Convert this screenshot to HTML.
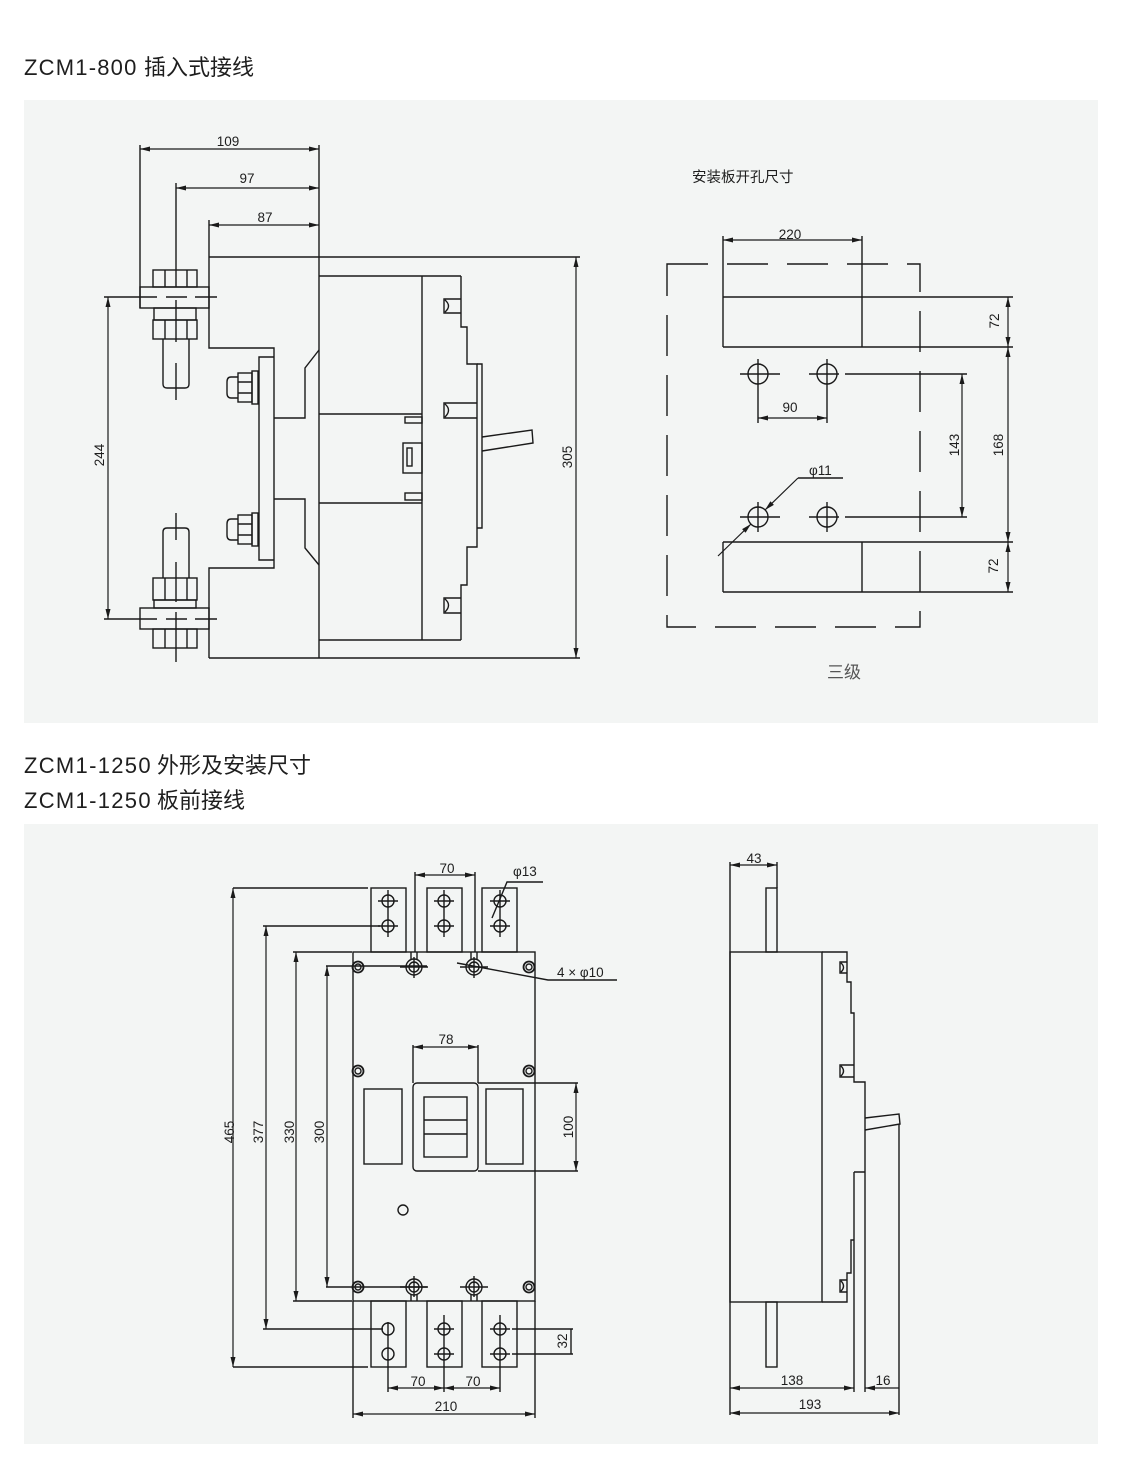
<!DOCTYPE html>
<html>
<head>
<meta charset="utf-8">
<style>
html,body{margin:0;padding:0;background:#fff;}
svg{display:block;}
.t{font-family:"Liberation Sans","Noto Sans CJK SC",sans-serif;fill:#1e1e1e;}
.n{font-family:"Liberation Sans",sans-serif;font-size:13.5px;fill:#1e1e1e;}
.l{stroke:#1a1a1a;stroke-width:1.4;fill:none;}
.d{stroke:#1a1a1a;stroke-width:1.2;fill:none;marker-start:url(#a);marker-end:url(#a);}
</style>
</head>
<body>
<svg width="1121" height="1471" viewBox="0 0 1121 1471" xmlns="http://www.w3.org/2000/svg">
<defs>
<marker id="a" viewBox="0 0 12 6" refX="12" refY="3" markerWidth="12" markerHeight="5" orient="auto-start-reverse" markerUnits="userSpaceOnUse"><path d="M0,0L12,3L0,6z" fill="#1a1a1a"/></marker>
<marker id="e" viewBox="0 0 12 6" refX="12" refY="3" markerWidth="12" markerHeight="5" orient="auto" markerUnits="userSpaceOnUse"><path d="M0,0L12,3L0,6z" fill="#1a1a1a"/></marker>
</defs>

<!-- panels -->
<rect x="24" y="100" width="1074" height="623" fill="#f3f5f4"/>
<rect x="24" y="824" width="1074" height="620" fill="#f3f5f4"/>

<!-- titles -->
<text class="t" y="75" font-size="22"><tspan x="24" letter-spacing="1.2">ZCM1-800</tspan><tspan x="144">插入式接线</tspan></text>
<text class="t" y="773" font-size="22"><tspan x="24" letter-spacing="1.3">ZCM1-1250</tspan><tspan x="157">外形及安装尺寸</tspan></text>
<text class="t" y="808" font-size="22"><tspan x="24" letter-spacing="1.3">ZCM1-1250</tspan><tspan x="157">板前接线</tspan></text>

<!-- ================= TOP LEFT ================= -->
<g>
<line class="d" x1="140" y1="149" x2="319" y2="149"/>
<line class="d" x1="176" y1="188" x2="319" y2="188"/>
<line class="d" x1="209" y1="225" x2="319" y2="225"/>
<text class="n" x="228" y="146" text-anchor="middle">109</text>
<text class="n" x="247" y="183" text-anchor="middle">97</text>
<text class="n" x="265" y="222" text-anchor="middle">87</text>

<path class="l" d="M140,145V308 M319,145V658 M176,183V287 M176,300V342 M176,363V400"/>
<path class="l" d="M209,220V348H274V568H209V658"/>
<path class="l" d="M209,257H580 M209,658H580"/>
<path class="l" d="M319,276H461 M319,640H461 M422,276V640 M319,414H422 M319,503H422"/>
<path class="l" d="M461,276V327H467V364H477V547H467V585H461V640"/>
<path class="l" d="M477,364H482V528H477"/>
<path class="l" d="M482,437L532,430L533,443L482,451"/>
<path class="l" d="M461,299H444V313H461 M445,300Q452,306 445,312"/>
<path class="l" d="M477,403H444V418H477 M445,404Q452,410 445,417"/>
<path class="l" d="M461,598H444V613H461 M445,599Q452,605 445,612"/>
<rect class="l" x="405" y="417" width="17" height="6"/>
<rect class="l" x="403" y="443" width="19" height="30"/>
<rect class="l" x="407" y="448" width="5" height="18"/>
<rect class="l" x="405" y="493" width="17" height="7"/>
<path class="l" d="M319,350L305,368V418H274 M274,499H305V548L319,565"/>
<path class="l" d="M274,357H259V560H274"/>
<g>
<path class="l" d="M238,377H231Q227,377 227,382V393Q227,398 231,398H238"/>
<rect class="l" x="238" y="373" width="14" height="29"/>
<path class="l" d="M238,382H252 M238,393H252"/>
<rect class="l" x="252" y="371" width="6" height="33"/>
</g>
<g>
<path class="l" d="M238,519H231Q227,519 227,524V535Q227,540 231,540H238"/>
<rect class="l" x="238" y="515" width="14" height="29"/>
<path class="l" d="M238,524H252 M238,535H252"/>
<rect class="l" x="252" y="513" width="6" height="33"/>
</g>
<rect class="l" x="153" y="270" width="44" height="17"/>
<path class="l" d="M165,270V287 M187,270V287"/>
<rect class="l" x="140" y="287" width="69" height="21"/>
<path class="l" d="M104,297H157 M166,297H187 M195,297H217"/>
<rect class="l" x="154" y="308" width="42" height="12"/>
<rect class="l" x="153" y="320" width="44" height="19"/>
<path class="l" d="M165,320V339 M187,320V339"/>
<path class="l" d="M163,339V384Q163,388 167,388H185Q189,388 189,384V339"/>
<path class="l" d="M163,578V532Q163,528 167,528H185Q189,528 189,532V578"/>
<rect class="l" x="153" y="578" width="44" height="22"/>
<path class="l" d="M165,578V600 M187,578V600"/>
<rect class="l" x="154" y="600" width="42" height="8"/>
<rect class="l" x="140" y="608" width="69" height="21"/>
<path class="l" d="M104,619H157 M166,619H187 M195,619H217"/>
<rect class="l" x="153" y="629" width="44" height="19"/>
<path class="l" d="M165,629V648 M187,629V648"/>
<path class="l" d="M176,513V540 M176,562V602 M176,612V662"/>
<line class="d" x1="108" y1="297" x2="108" y2="619"/>
<text class="n" transform="translate(104,455) rotate(-90)" text-anchor="middle">244</text>
<line class="d" x1="576" y1="257" x2="576" y2="658"/>
<text class="n" transform="translate(572,457) rotate(-90)" text-anchor="middle">305</text>
</g>

<!-- ================= TOP RIGHT ================= -->
<g>
<text class="t" x="692" y="182" font-size="14.5">安装板开孔尺寸</text>
<path class="l" d="M667,264H920V627H667Z" stroke-dasharray="41 19"/>
<line class="d" x1="723" y1="240" x2="862" y2="240"/>
<text class="n" x="790" y="239" text-anchor="middle">220</text>
<path class="l" d="M723,236V347 M862,236V347"/>
<path class="l" d="M723,297H1013 M723,347H1013"/>
<line class="d" x1="1008" y1="297" x2="1008" y2="347"/>
<text class="n" transform="translate(999,321) rotate(-90)" text-anchor="middle">72</text>
<circle class="l" cx="758" cy="374" r="10"/>
<circle class="l" cx="827" cy="374" r="10"/>
<circle class="l" cx="758" cy="517" r="10"/>
<circle class="l" cx="827" cy="517" r="10"/>
<path class="l" d="M740,374H780 M809,374H839 M758,359V423 M827,359V423 M845,374H967"/>
<path class="l" d="M740,517H780 M809,517H839 M758,502V532 M827,502V532 M845,517H967"/>
<line class="d" x1="758" y1="418" x2="827" y2="418"/>
<text class="n" x="790" y="412" text-anchor="middle">90</text>
<line class="d" x1="962" y1="374" x2="962" y2="517"/>
<text class="n" transform="translate(959,445) rotate(-90)" text-anchor="middle">143</text>
<line class="d" x1="1008" y1="347" x2="1008" y2="542"/>
<text class="n" transform="translate(1003,445) rotate(-90)" text-anchor="middle">168</text>
<path class="l" d="M723,542H1013 M723,592H1013 M723,542V592 M862,542V592"/>
<line class="d" x1="1008" y1="542" x2="1008" y2="592"/>
<text class="n" transform="translate(998,566) rotate(-90)" text-anchor="middle">72</text>
<path class="l" d="M843,478H798" stroke-width="1.2"/>
<line x1="798" y1="478" x2="765" y2="510" stroke="#1a1a1a" stroke-width="1.2" marker-end="url(#e)"/>
<line x1="718" y1="556" x2="751" y2="524" stroke="#1a1a1a" stroke-width="1.2" marker-end="url(#e)"/>
<text class="n" x="809" y="475">φ11</text>
<text class="t" x="827" y="678" font-size="17" style="fill:#555">三级</text>
</g>

<!-- ================= BOTTOM FRONT VIEW ================= -->
<g>
<path class="l" d="M233,888H368 M233,1367H368" stroke-width="1.2"/>
<line class="d" x1="233" y1="888" x2="233" y2="1367"/>
<text class="n" transform="translate(234,1132) rotate(-90)" text-anchor="middle">465</text>
<path class="l" d="M263,926H380 M263,1329H383" stroke-width="1.2"/>
<line class="d" x1="266" y1="926" x2="266" y2="1329"/>
<text class="n" transform="translate(263,1132) rotate(-90)" text-anchor="middle">377</text>
<path class="l" d="M293,952H352 M293,1301H352" stroke-width="1.2"/>
<line class="d" x1="296" y1="952" x2="296" y2="1301"/>
<text class="n" transform="translate(294,1132) rotate(-90)" text-anchor="middle">330</text>
<path class="l" d="M326,966H427 M326,1287H427" stroke-width="1.2"/>
<line class="d" x1="327" y1="966" x2="327" y2="1287"/>
<text class="n" transform="translate(324,1132) rotate(-90)" text-anchor="middle">300</text>

<rect class="l" x="371" y="888" width="35" height="64"/>
<rect class="l" x="427" y="888" width="35" height="64"/>
<rect class="l" x="482" y="888" width="35" height="64"/>
<g class="l">
<circle cx="388" cy="901" r="6"/><circle cx="388" cy="926" r="6"/>
<circle cx="444" cy="901" r="6"/><circle cx="444" cy="926" r="6"/>
<circle cx="500" cy="901" r="6"/><circle cx="500" cy="926" r="6"/>
<path d="M378,901H398 M378,926H398 M388,890V937 M434,901H454 M434,926H454 M444,890V937 M490,901H510 M490,926H510 M500,890V937"/>
</g>
<path class="l" d="M415,872V952 M475,872V952" stroke-width="1.2"/>
<line class="d" x1="415" y1="875" x2="475" y2="875"/>
<text class="n" x="447" y="873" text-anchor="middle">70</text>
<path class="l" d="M543,882H507L492,918" stroke-width="1.2"/>
<text class="n" x="513" y="876">φ13</text>

<rect class="l" x="353" y="952" width="182" height="349"/>
<g class="l">
<circle cx="358" cy="967" r="5.5" stroke-width="1.8"/><circle cx="358" cy="967" r="3"/>
<circle cx="529" cy="967" r="5.5" stroke-width="1.8"/><circle cx="529" cy="967" r="3"/>
<circle cx="358" cy="1071" r="5.5" stroke-width="1.8"/><circle cx="358" cy="1071" r="3"/>
<circle cx="529" cy="1071" r="5.5" stroke-width="1.8"/><circle cx="529" cy="1071" r="3"/>
<circle cx="358" cy="1287" r="5.5" stroke-width="1.8"/><circle cx="358" cy="1287" r="3"/>
<circle cx="529" cy="1287" r="5.5" stroke-width="1.8"/><circle cx="529" cy="1287" r="3"/>
</g>
<g class="l">
<circle cx="414" cy="967" r="8"/><circle cx="414" cy="967" r="5"/>
<circle cx="474" cy="967" r="8"/><circle cx="474" cy="967" r="5"/>
<path d="M411,952V959 M417,952V959 M471,952V959 M477,952V959"/>
<path d="M400,967H428 M414,957V978 M460,967H488 M474,957V978"/>
<circle cx="414" cy="1287" r="8"/><circle cx="414" cy="1287" r="5"/>
<circle cx="474" cy="1287" r="8"/><circle cx="474" cy="1287" r="5"/>
<path d="M411,1294V1301 M417,1294V1301 M471,1294V1301 M477,1294V1301"/>
<path d="M400,1287H428 M414,1276V1297 M460,1287H488 M474,1276V1297"/>
</g>
<path class="l" d="M457,963L548,980H617" stroke-width="1.2"/>
<text class="n" x="557" y="977">4 × φ10</text>

<path class="l" d="M413,1045V1083 M478,1045V1083" stroke-width="1.2"/>
<line class="d" x1="413" y1="1047" x2="478" y2="1047"/>
<text class="n" x="446" y="1044" text-anchor="middle">78</text>
<rect class="l" x="413" y="1083" width="65" height="88" rx="4"/>
<rect class="l" x="424" y="1097" width="43" height="60"/>
<path class="l" d="M424,1120H467 M424,1134H467"/>
<rect class="l" x="364" y="1089" width="38" height="75"/>
<rect class="l" x="486" y="1089" width="37" height="75"/>
<path class="l" d="M478,1083H578 M478,1171H578" stroke-width="1.2"/>
<line class="d" x1="576" y1="1083" x2="576" y2="1171"/>
<text class="n" transform="translate(573,1127) rotate(-90)" text-anchor="middle">100</text>
<circle class="l" cx="403" cy="1210" r="5"/>

<rect class="l" x="371" y="1301" width="35" height="66"/>
<rect class="l" x="427" y="1301" width="35" height="66"/>
<rect class="l" x="482" y="1301" width="35" height="66"/>
<g class="l">
<circle cx="388" cy="1329" r="6"/><circle cx="388" cy="1354" r="6"/>
<circle cx="444" cy="1329" r="6"/><circle cx="444" cy="1354" r="6"/>
<circle cx="500" cy="1329" r="6"/><circle cx="500" cy="1354" r="6"/>
<path d="M388,1322V1392 M434,1329H454 M434,1354H454 M444,1315V1392 M490,1329H510 M490,1354H510 M500,1315V1392"/>
</g>
<path class="l" d="M512,1329H573 M512,1354H573" stroke-width="1.2"/>
<line class="l" x1="571" y1="1329" x2="571" y2="1354" stroke-width="1.2"/>
<text class="n" transform="translate(567,1341) rotate(-90)" text-anchor="middle">32</text>
<line class="d" x1="388" y1="1388" x2="444" y2="1388"/>
<line class="d" x1="444" y1="1388" x2="500" y2="1388"/>
<text class="n" x="418" y="1386" text-anchor="middle">70</text>
<text class="n" x="473" y="1386" text-anchor="middle">70</text>
<path class="l" d="M353,1301V1418 M535,1301V1418" stroke-width="1.2"/>
<line class="d" x1="353" y1="1414" x2="535" y2="1414"/>
<text class="n" x="446" y="1411" text-anchor="middle">210</text>
</g>

<!-- ================= BOTTOM SIDE VIEW ================= -->
<g>
<line class="d" x1="730" y1="865" x2="777" y2="865"/>
<text class="n" x="754" y="863" text-anchor="middle">43</text>
<path class="l" d="M730,862V1415 M777,862V888" stroke-width="1.3"/>
<rect class="l" x="766" y="888" width="11" height="64"/>
<rect class="l" x="730" y="952" width="92" height="350"/>
<path class="l" d="M822,952H847V982H851V1013H854V1082H865V1172H854 M865,1172V1392 M854,1172V1392 M854,1240H851V1273H847V1302H822"/>
<path class="l" d="M847,962H840V973H847 M841,963Q846,967.5 841,972"/>
<path class="l" d="M854,1065H840V1077H854 M841,1066Q846,1071 841,1076"/>
<path class="l" d="M847,1280H840V1292H847 M841,1281Q846,1286 841,1291"/>
<path class="l" d="M865,1118L899,1114L900,1124L865,1130"/>
<path class="l" d="M899,1124V1415" stroke-width="1.3"/>
<rect class="l" x="766" y="1302" width="11" height="65"/>
<line class="d" x1="730" y1="1388" x2="854" y2="1388"/>
<text class="n" x="792" y="1385" text-anchor="middle">138</text>
<line x1="899" y1="1388" x2="865" y2="1388" stroke="#1a1a1a" stroke-width="1.2" marker-end="url(#e)"/>
<text class="n" x="883" y="1385" text-anchor="middle">16</text>
<line class="d" x1="730" y1="1413" x2="899" y2="1413"/>
<text class="n" x="810" y="1409" text-anchor="middle">193</text>
</g>
</svg>
</body>
</html>
